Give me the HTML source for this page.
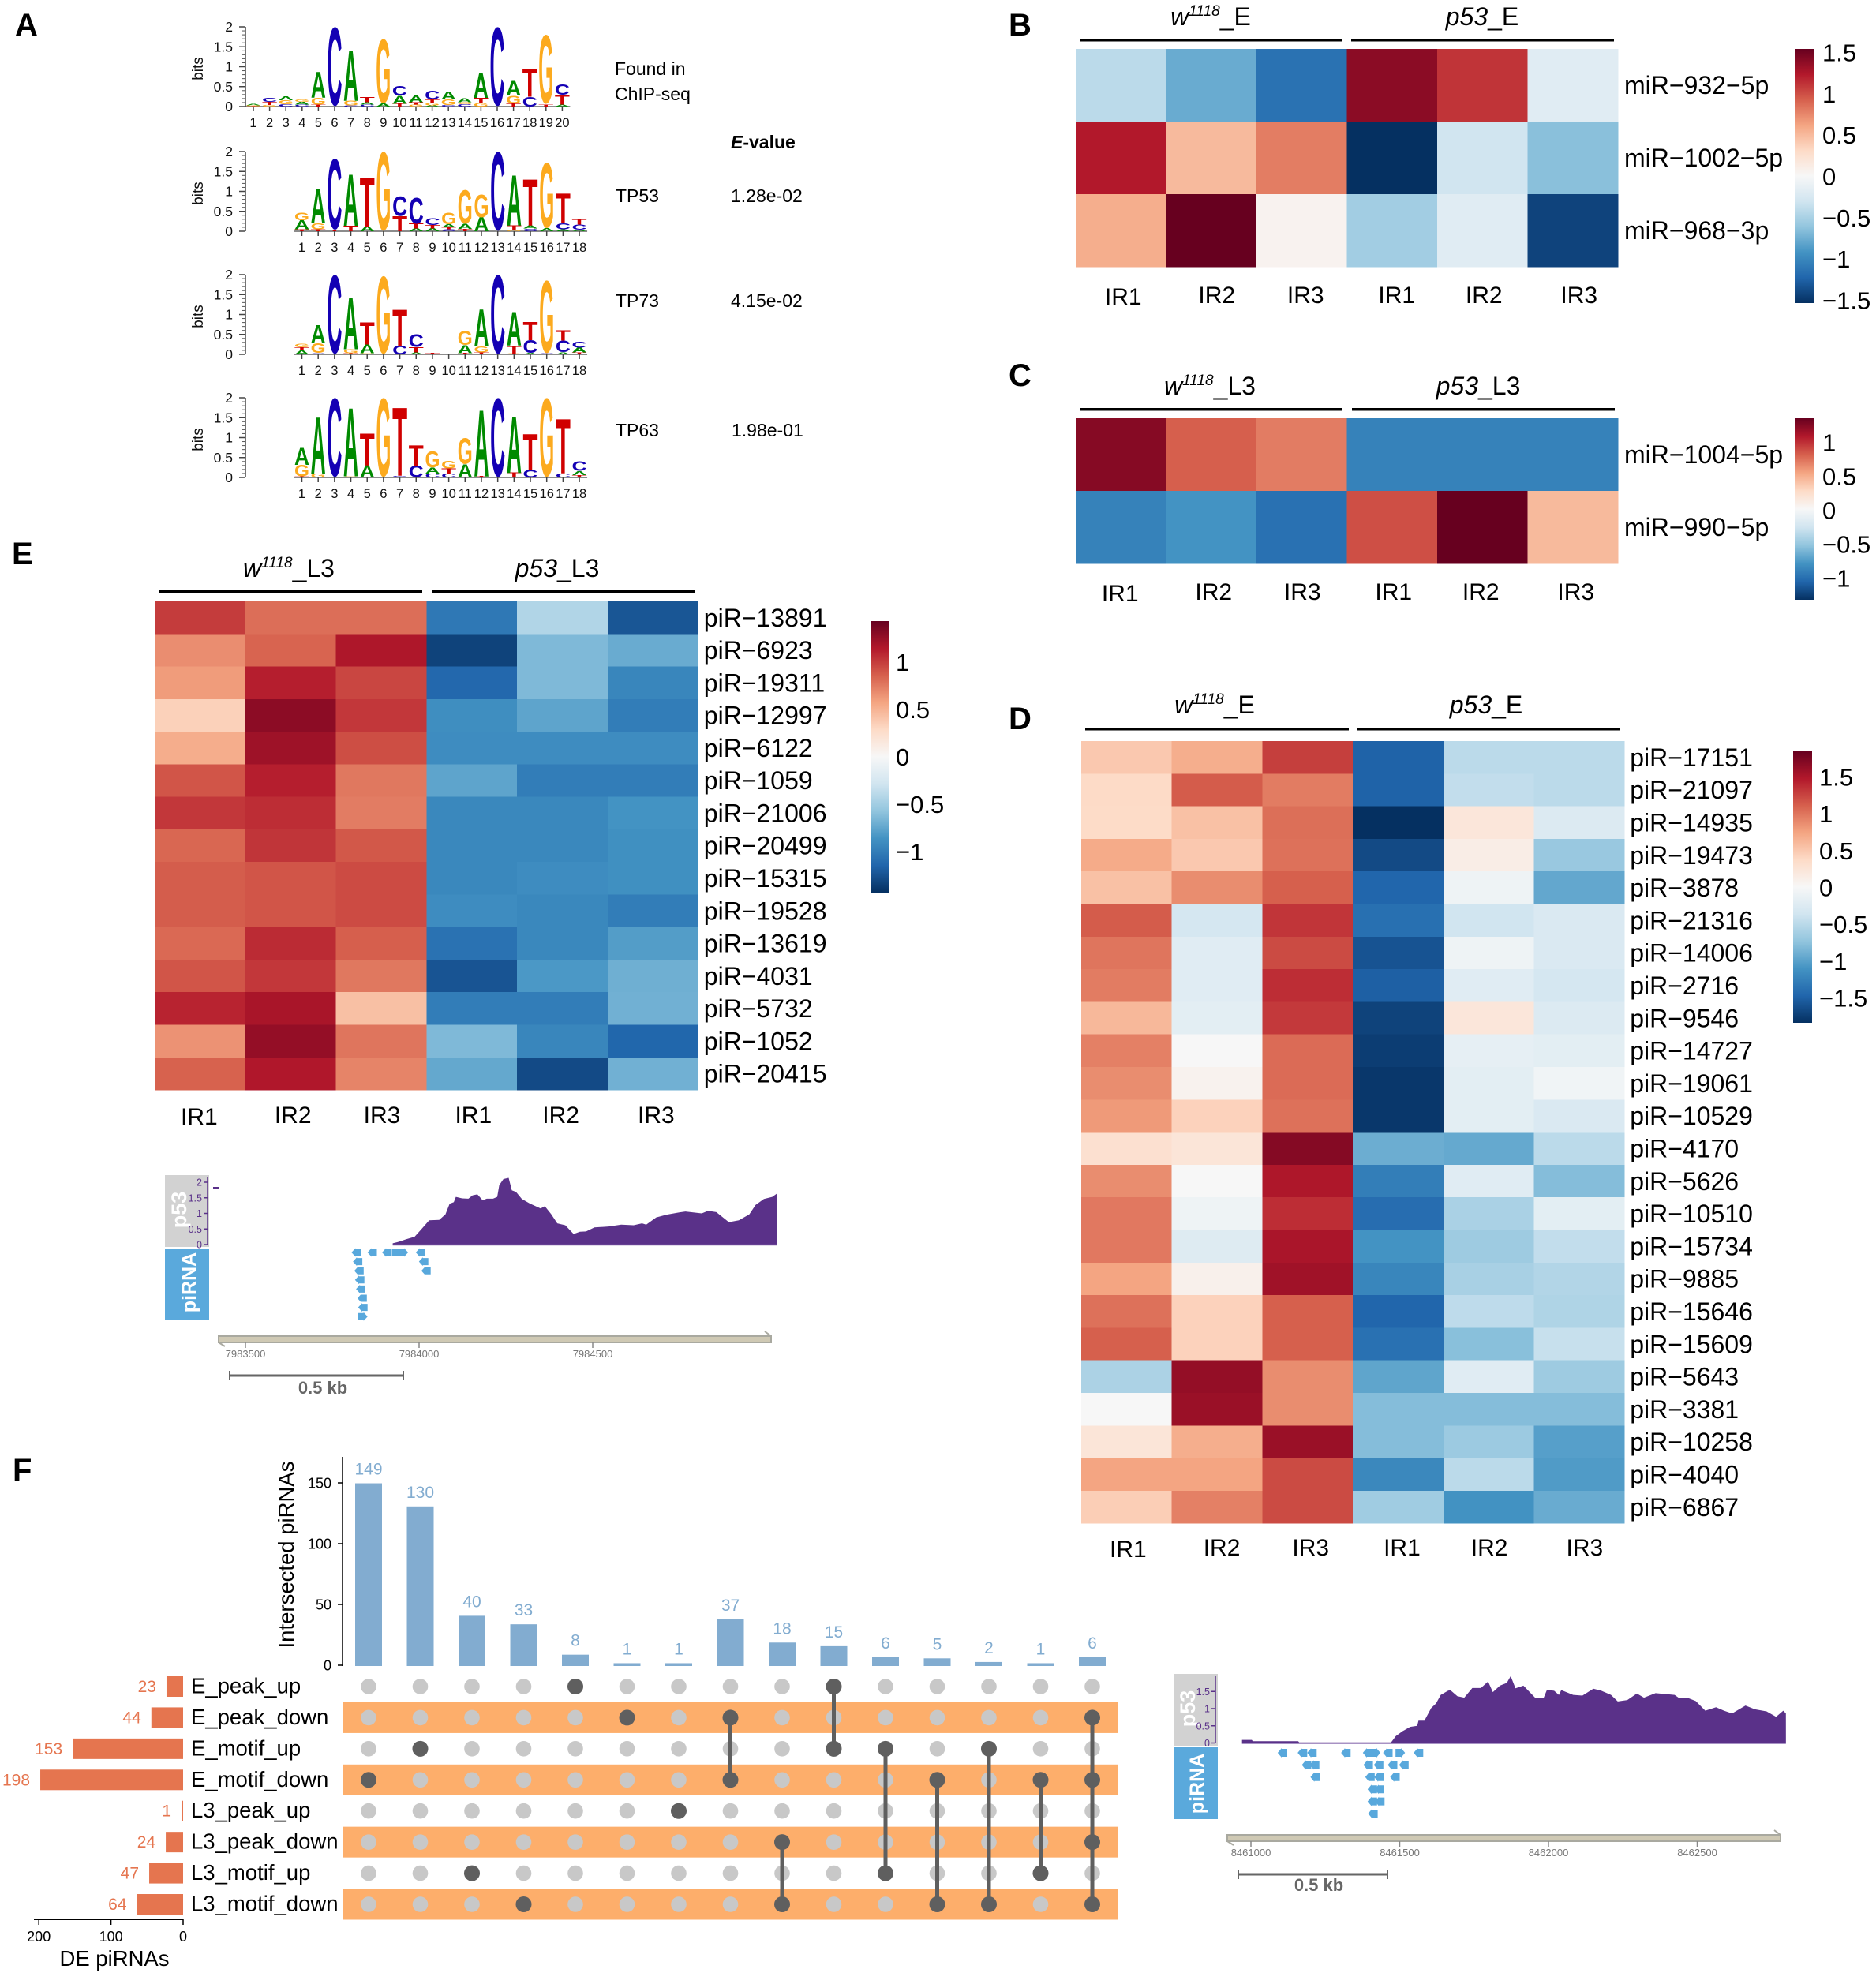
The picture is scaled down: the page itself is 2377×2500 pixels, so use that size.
<!DOCTYPE html>
<html lang="en">
<head>
<meta charset="utf-8">
<title>p53 motif, miRNA and piRNA figure</title>
<style>
html,body{margin:0;padding:0;background:#fff;}
svg{display:block;font-family:"Liberation Sans",sans-serif;}
</style>
</head>
<body>
<svg id="figure" xmlns="http://www.w3.org/2000/svg" width="2377" height="2500" viewBox="0 0 2377 2500">
  <rect x="0" y="0" width="2377" height="2500" fill="#fff"/>
  <g font-weight="bold" font-size="40" fill="#000">
    <text x="19" y="45">A</text>
    <text x="1278" y="45">B</text>
    <text x="1278" y="489">C</text>
    <text x="1278" y="924">D</text>
    <text x="15" y="715">E</text>
    <text x="16" y="1876">F</text>
  </g>
  <g font-size="23" fill="#000">
    <text x="779" y="95">Found in</text>
    <text x="779" y="127">ChIP-seq</text>
    <text x="926" y="188" font-weight="bold"><tspan font-style="italic">E</tspan>-value</text>
    <text x="780" y="256">TP53</text>
    <text x="926" y="256">1.28e-02</text>
    <text x="780" y="389">TP73</text>
    <text x="926" y="389">4.15e-02</text>
    <text x="780" y="553">TP63</text>
    <text x="927" y="553">1.98e-01</text>
  </g>
  <g font-size="32" fill="#000" text-anchor="middle">
    <text x="1534" y="32"><tspan font-style="italic">w<tspan font-size="19" dy="-12">1118</tspan></tspan><tspan dy="12">_E</tspan></text>
    <text x="1878" y="32"><tspan font-style="italic">p53</tspan>_E</text>
    <rect x="1368" y="49" width="333" height="3.5"/>
    <rect x="1712" y="49" width="333" height="3.5"/>
    <text x="1533" y="500"><tspan font-style="italic">w<tspan font-size="19" dy="-12">1118</tspan></tspan><tspan dy="12">_L3</tspan></text>
    <text x="1873" y="500"><tspan font-style="italic">p53</tspan>_L3</text>
    <rect x="1368" y="517" width="333" height="3.5"/>
    <rect x="1713" y="517" width="333" height="3.5"/>
    <text x="366" y="731"><tspan font-style="italic">w<tspan font-size="19" dy="-12">1118</tspan></tspan><tspan dy="12">_L3</tspan></text>
    <text x="706" y="731"><tspan font-style="italic">p53</tspan>_L3</text>
    <rect x="202" y="748" width="333" height="3.5"/>
    <rect x="547" y="748" width="333" height="3.5"/>
    <text x="1539" y="904"><tspan font-style="italic">w<tspan font-size="19" dy="-12">1118</tspan></tspan><tspan dy="12">_E</tspan></text>
    <text x="1883" y="904"><tspan font-style="italic">p53</tspan>_E</text>
    <rect x="1375" y="922" width="334" height="3.5"/>
    <rect x="1720" y="922" width="332" height="3.5"/>
  </g>
  <g font-size="27.5" fill="#000" text-anchor="middle">
    <text transform="translate(372 1970) rotate(-90)">Intersected piRNAs</text>
    <text x="145" y="2491">DE piRNAs</text>
  </g>
  <g>
    <rect x="209" y="1489" width="56" height="91" fill="#d2d2d2"/>
    <rect x="209" y="1582" width="56" height="91" fill="#5aa9dc"/>
    <text transform="translate(236 1533) rotate(-90)" font-size="27" font-weight="bold" fill="#fff" text-anchor="middle">p53</text>
    <text transform="translate(248 1625) rotate(-90)" font-size="25" font-weight="bold" fill="#fff" text-anchor="middle">piRNA</text>
    <rect x="270" y="1504" width="7" height="2" fill="#5a3189"/>
    <line x1="291" y1="1743" x2="511" y2="1743" stroke="#666" stroke-width="3"/>
    <line x1="291" y1="1737" x2="291" y2="1749" stroke="#666" stroke-width="2"/>
    <line x1="511" y1="1737" x2="511" y2="1749" stroke="#666" stroke-width="2"/>
    <text x="409" y="1766" font-size="22" font-weight="bold" fill="#666" text-anchor="middle">0.5 kb</text>
  </g>
  <g>
    <rect x="1487" y="2121" width="56" height="91" fill="#d2d2d2"/>
    <rect x="1487" y="2214" width="56" height="91" fill="#5aa9dc"/>
    <text transform="translate(1514 2165) rotate(-90)" font-size="27" font-weight="bold" fill="#fff" text-anchor="middle">p53</text>
    <text transform="translate(1525 2260) rotate(-90)" font-size="25" font-weight="bold" fill="#fff" text-anchor="middle">piRNA</text>
    <line x1="1569" y1="2375" x2="1758" y2="2375" stroke="#666" stroke-width="3"/>
    <line x1="1569" y1="2369" x2="1569" y2="2381" stroke="#666" stroke-width="2"/>
    <line x1="1758" y1="2369" x2="1758" y2="2381" stroke="#666" stroke-width="2"/>
    <text x="1671" y="2396" font-size="22" font-weight="bold" fill="#666" text-anchor="middle">0.5 kb</text>
  </g>
  <defs id="defs"></defs>
</svg>
<script>
/* ---------- heatmap data ---------- */
const sampleLabels = ['IR1','IR2','IR3','IR1','IR2','IR3'];
const heatBRows = ['miR\u2212932\u22125p','miR\u22121002\u22125p','miR\u2212968\u22123p'];
const heatBValues = [
  [-0.42,-0.78,-1.16,1.4,1.12,-0.19],
  [1.24,0.5,0.8,-1.55,-0.31,-0.65],
  [0.57,1.55,0.05,-0.54,-0.19,-1.44]
];
const heatBTicks = [1.5,1,0.5,0,-0.5,-1,-1.5];
const heatCRows = ['miR\u22121004\u22125p','miR\u2212990\u22125p'];
const heatCValues = [
  [1.22,0.8,0.69,-0.9,-0.9,-0.9],
  [-0.9,-0.8,-1.0,0.86,1.33,0.43]
];
const heatCTicks = [1,0.5,0,-0.5,-1];
const heatERows = ['piR\u221213891','piR\u22126923','piR\u221219311','piR\u221212997','piR\u22126122','piR\u22121059','piR\u221221006','piR\u221220499','piR\u221215315','piR\u221219528','piR\u221213619','piR\u22124031','piR\u22125732','piR\u22121052','piR\u221220415'];
const heatEValues = [
  [1.0,0.8,0.8,-1.03,-0.43,-1.23],
  [0.67,0.84,1.16,-1.33,-0.64,-0.72],
  [0.61,1.12,0.96,-1.13,-0.64,-0.94],
  [0.34,1.29,1.02,-0.89,-0.76,-1.0],
  [0.53,1.22,0.93,-0.9,-0.9,-0.9],
  [0.9,1.12,0.76,-0.76,-1.0,-1.0],
  [1.02,1.06,0.74,-0.93,-0.93,-0.86],
  [0.83,1.03,0.89,-0.93,-0.93,-0.88],
  [0.87,0.9,0.94,-0.93,-0.9,-0.88],
  [0.87,0.9,0.94,-0.9,-0.93,-1.0],
  [0.82,1.07,0.86,-1.07,-0.93,-0.8],
  [0.9,1.02,0.76,-1.24,-0.83,-0.7],
  [1.1,1.18,0.43,-1.0,-1.0,-0.69],
  [0.65,1.26,0.77,-0.64,-0.94,-1.14],
  [0.85,1.15,0.71,-0.74,-1.29,-0.69]
];
const heatETicks = [1,0.5,0,-0.5,-1];
const heatDRows = ['piR\u221217151','piR\u221221097','piR\u221214935','piR\u221219473','piR\u22123878','piR\u221221316','piR\u221214006','piR\u22122716','piR\u22129546','piR\u221214727','piR\u221219061','piR\u221210529','piR\u22124170','piR\u22125626','piR\u221210510','piR\u221215734','piR\u22129885','piR\u221215646','piR\u221215609','piR\u22125643','piR\u22123381','piR\u221210258','piR\u22124040','piR\u22126867'];
const heatDValues = [
  [0.5,0.68,1.28,-1.5,-0.5,-0.5],
  [0.37,1.13,0.96,-1.5,-0.46,-0.5],
  [0.36,0.55,1.03,-1.85,0.22,-0.26],
  [0.7,0.5,1.02,-1.67,0.13,-0.7],
  [0.55,0.87,1.11,-1.48,-0.09,-0.96],
  [1.13,-0.33,1.33,-1.4,-0.37,-0.28],
  [1.0,-0.22,1.22,-1.61,-0.09,-0.28],
  [0.96,-0.22,1.37,-1.52,-0.22,-0.33],
  [0.61,-0.19,1.31,-1.72,0.22,-0.26],
  [0.94,0.0,1.05,-1.76,-0.17,-0.19],
  [0.87,0.07,1.05,-1.8,-0.19,-0.07],
  [0.8,0.43,1.02,-1.8,-0.19,-0.28],
  [0.3,0.24,1.7,-0.92,-0.95,-0.5],
  [0.87,0.0,1.5,-1.28,-0.22,-0.8],
  [0.98,-0.09,1.37,-1.42,-0.6,-0.19],
  [0.98,-0.24,1.52,-1.11,-0.67,-0.46],
  [0.74,0.09,1.57,-1.22,-0.61,-0.55],
  [1.02,0.43,1.11,-1.48,-0.48,-0.57],
  [1.11,0.43,1.11,-1.39,-0.78,-0.43],
  [-0.59,1.63,0.87,-0.98,-0.22,-0.67],
  [0.0,1.6,0.87,-0.8,-0.8,-0.8],
  [0.24,0.68,1.6,-0.8,-0.68,-1.02],
  [0.74,0.74,1.22,-1.2,-0.5,-1.05],
  [0.46,0.94,1.22,-0.66,-1.12,-0.93]
];
const heatDTicks = [1.5,1,0.5,0,-0.5,-1,-1.5];

/* ---------- sequence logo data: letters bottom-to-top, heights in bits ---------- */
const logoYTicks = [0,0.5,1,1.5,2];
const logoFoundLetters = ['TGA','GTC','CGA','CAG','TGA','C','CGA','CAT','AG','TAC','GTA','AGTC','CGA','CGA','GTA','C','TGA','CT','TG','ATC'];
const logoFoundBits = [[0.01,0.02,0.03],[0.04,0.08,0.1],[0.06,0.1,0.1],[0.05,0.07,0.07],[0.05,0.17,0.65],[2],[0.03,0.12,1.25],[0.05,0.06,0.13],[0.07,1.63],[0.07,0.2,0.25],[0.05,0.06,0.16],[0.03,0.07,0.07,0.22],[0.04,0.14,0.2],[0.06,0.05,0.1],[0.09,0.13,0.62],[2],[0.08,0.2,0.36],[0.25,0.7],[0.05,1.75],[0.05,0.24,0.26]];
const logoTP53Letters = ['TAG','TGA','TC','TA','AT','G','TC','ATC','ATC','CTAG','TAG','AG','C','GTA','CAT','AG','ACT','ACT'];
const logoTP53Bits = [[0.05,0.22,0.2],[0.05,0.15,0.85],[0.02,1.8],[0.14,1.28],[0.12,1.23],[2],[0.38,0.5],[0.07,0.12,0.65],[0.07,0.09,0.17],[0.05,0.05,0.07,0.3],[0.06,0.12,0.85],[0.35,0.58],[2],[0.02,0.13,1.25],[0.07,0.07,1.15],[0.07,1.65],[0.05,0.15,0.75],[0.04,0.13,0.14]];
const logoTP73Letters = ['ATG','CGA','C','TGA','GAT','G','CT','ATC','T','','TAG','TGA','C','GTA','ACT','CG','ACT','TAC'];
const logoTP73Bits = [[0.1,0.08,0.09],[0.03,0.25,0.45],[2],[0.03,0.1,1.28],[0.03,0.22,0.55],[1.97],[0.22,0.9],[0.05,0.13,0.33],[0.03],[],[0.03,0.2,0.35],[0.05,0.15,0.92],[2],[0.02,0.2,0.83],[0.03,0.33,0.45],[0.02,1.84],[0.05,0.3,0.25],[0.05,0.12,0.15]];
const logoTP63Letters = ['TGA','GA','C','GA','AT','G','CT','CT','CAG','CTG','AG','TA','C','TA','CT','G','CT','TAC'];
const logoTP63Bits = [[0.02,0.3,0.43],[0.1,1.4],[2],[0.03,1.7],[0.3,0.8],[2],[0.04,1.7],[0.3,0.5],[0.1,0.15,0.4],[0.1,0.12,0.2],[0.33,0.65],[0.03,1.65],[2],[0.12,1.4],[0.2,0.88],[2],[0.1,1.35],[0.06,0.1,0.25]];

/* ---------- genome track data ---------- */
const trackATicks = [7983500,7984000,7984500];
const trackAYTicks = [0,0.5,1,1.5,2];
const trackAPos = [424,439,463,487,505,529,558,576,588,600,606,624,642,654,668,683,695,713,725,731,743,758,767,779,796,820,850,862,880,898,921,945,963,981,1005,1046,1082,1118,1142,1154,1183,1213,1249,1267,1314,1332,1356,1392,1421,1451,1469,1493,1517,1531];
const trackAValues = [0.04,0.08,0.17,0.25,0.47,0.78,0.79,0.97,1.31,1.36,1.53,1.48,1.47,1.58,1.61,1.42,1.47,1.47,1.53,1.91,2.1,2.14,1.74,1.69,1.46,1.31,1.16,1.23,0.98,0.68,0.62,0.34,0.41,0.42,0.55,0.58,0.64,0.62,0.68,0.64,0.87,0.96,1.03,1.06,1.0,1.08,1.04,0.72,0.78,0.97,1.27,1.46,1.53,1.64];
const trackAReadPos = [319,365,407,445,504,323,513,327,520,329,332,336,338,338];
const trackAReadLen = [27,27,27,47,27,27,27,27,27,27,27,27,27,27];
const trackAReadRow = [0,0,0,0,0,1,1,2,2,3,4,5,6,7];
const trackAReadStrand = [-1,-1,-1,1,-1,-1,-1,-1,-1,-1,-1,-1,-1,1];

const trackBTicks = [8461000,8461500,8462000,8462500];
const trackBYTicks = [0,0.5,1,1.5];
const trackBPos = [-30,3,6,159,162,471,487,511,535,559,563,583,606,622,638,662,670,694,717,744,773,797,813,837,860,873,889,916,956,984,995,1019,1035,1043,1083,1114,1151,1178,1210,1233,1265,1297,1321,1360,1424,1440,1471,1495,1527,1563,1590,1617,1662,1694,1733,1765,1789,1798];
const trackBValues = [0.09,0.09,0.05,0.05,0.015,0.015,0.2,0.35,0.47,0.5,0.65,0.65,1.02,1.15,1.4,1.52,1.54,1.36,1.32,1.6,1.6,1.79,1.48,1.67,1.75,1.95,1.59,1.67,1.31,1.32,1.55,1.52,1.4,1.54,1.4,1.38,1.58,1.52,1.4,1.21,1.25,1.44,1.32,1.45,1.4,1.3,1.3,1.22,0.94,1.04,0.94,0.86,1.09,0.98,0.92,0.76,0.94,0.86];
const trackBReadPos = [106,173,205,319,392,419,460,502,563,187,214,394,429,476,514,216,400,430,484,408,432,408,433,410];
const trackBReadRow = [0,0,0,0,0,0,0,0,0,1,1,1,1,1,1,2,2,2,2,3,3,4,4,5];
const trackBReadStrand = [-1,-1,-1,-1,-1,1,-1,1,-1,-1,-1,-1,-1,-1,-1,-1,-1,-1,-1,-1,-1,-1,-1,-1];

/* ---------- UpSet data ---------- */
const setNames = ['E_peak_up','E_peak_down','E_motif_up','E_motif_down','L3_peak_up','L3_peak_down','L3_motif_up','L3_motif_down'];
const setSizes = [23,44,153,198,1,24,47,64];
const setSizeTicks = [200,100,0];
const intersectionSizes = [149,130,40,33,8,1,1,37,18,15,6,5,2,1,6];
const intersectionYTicks = [0,50,100,150];
const intersectionMembers = [[3],[2],[6],[7],[0],[1],[4],[1,3],[5,7],[0,2],[2,6],[3,7],[2,7],[3,6],[1,3,5,7]];

/* ---------- helpers ---------- */
const NS = 'http://www.w3.org/2000/svg';
const root = document.getElementById('figure');
const defs = document.getElementById('defs');
const palette = ['#053061','#2166AC','#4393C3','#92C5DE','#D1E5F0','#F7F7F7','#FDDBC7','#F4A582','#D6604D','#B2182B','#67001F'];
function hex(c){return [parseInt(c.substr(1,2),16),parseInt(c.substr(3,2),16),parseInt(c.substr(5,2),16)];}
function rdbu(t){
  const p = (Math.max(-1,Math.min(1,t))+1)*5;
  const i = Math.min(9,Math.floor(p));
  const f = p-i;
  const a = hex(palette[i]);
  const b = hex(palette[i+1]);
  return 'rgb('+a.map(function(v,k){return Math.round(v+(b[k]-v)*f);}).join(',')+')';
}
function mk(tag,attrs,parent,txt){
  const el = document.createElementNS(NS,tag);
  for(const k in attrs){el.setAttribute(k,attrs[k]);}
  if(txt!==undefined){el.textContent=txt;}
  parent.appendChild(el);
  return el;
}
function fmt(v){return String(v).replace('-','\u2212');}

/* ---------- heatmaps ---------- */
function drawHeatmap(name,values,rows,cfg){
  const g = mk('g',{},root);
  
  
  const xAt = function(c){return cfg.x0+c*cfg.cw;};
  const yAt = function(r){return cfg.y0+r*cfg.rh;};
  const nudge = [-1,3,1,2,-2,4];
  values.forEach(function(row,r){
    row.forEach(function(v,c){
      const cell = mk('rect',{x:xAt(c),y:yAt(r),width:cfg.cw+0.4,height:cfg.rh+0.4,fill:rdbu(v/cfg.range),'shape-rendering':'crispEdges'},g);
      
      
    });
    const rl = mk('text',{x:xAt(6)+cfg.labelGap,y:yAt(r)+cfg.rh/2+11.2,'font-size':32,fill:'#000'},g,rows[r]);
    
    
  });
  sampleLabels.forEach(function(s,c){
    const cl = mk('text',{x:xAt(c)+cfg.cw/2+nudge[c]+cfg.sampleShift,y:cfg.sampleY+(c===0?2:0),'font-size':30,'text-anchor':'middle',fill:'#000'},g,s);
    
    
  });
}
function drawColorbar(name,ticks,cfg){
  const g = mk('g',{},root);
  
  
  const grad = mk('linearGradient',{id:name+'-grad',x1:0,y1:1,x2:0,y2:0},defs);
  palette.forEach(function(c,i){mk('stop',{offset:(i*10)+'%','stop-color':c},grad);});
  const bar = mk('rect',{x:cfg.x,y:cfg.y0,width:cfg.w,height:cfg.y1-cfg.y0,fill:'url(#'+name+'-grad)'},g);
  
  
  const yAt = function(v){return cfg.yZero-v*cfg.unit;};
  ticks.forEach(function(v){
    const t = mk('text',{x:cfg.x+cfg.w+cfg.gap,y:yAt(v)+10.5,'font-size':31,fill:'#000'},g,fmt(v));
    
    
  });
}
drawHeatmap('panel-b',heatBValues,heatBRows,{x0:1363,y0:62,cw:114.5,rh:92,range:1.55,labelGap:8,sampleY:384,sampleShift:4});
drawColorbar('panel-b',heatBTicks,{x:2275,w:23,y0:62,y1:384,yZero:224,unit:104.7,gap:11});
drawHeatmap('panel-c',heatCValues,heatCRows,{x0:1363,y0:530,cw:114.5,rh:92,range:1.33,labelGap:8,sampleY:760,sampleShift:0});
drawColorbar('panel-c',heatCTicks,{x:2275,w:23,y0:530,y1:760,yZero:647,unit:86,gap:11});
drawHeatmap('panel-e',heatEValues,heatERows,{x0:196,y0:762,cw:114.8,rh:41.27,range:1.43,labelGap:7,sampleY:1423,sampleShift:0});
drawColorbar('panel-e',heatETicks,{x:1103,w:23,y0:787,y1:1131,yZero:959.5,unit:120,gap:9});
drawHeatmap('panel-d',heatDValues,heatDRows,{x0:1370,y0:939,cw:114.7,rh:41.3,range:1.85,labelGap:7,sampleY:1971,sampleShift:3});
drawColorbar('panel-d',heatDTicks,{x:2272,w:24,y0:952,y1:1296,yZero:1125,unit:93.3,gap:9});

/* ---------- sequence logos ---------- */
const logoColor = {A:'#008a00',C:'#1400b4',G:'#fcaa1e',T:'#d00000'};
const logoWidth = {A:0.722,C:0.722,G:0.778,T:0.611};
function drawLogo(name,letters,bits,cfg){
  const g = mk('g',{},root);
  
  
  const xAt = function(i){return cfg.x0+cfg.step*i;};
  const yAt = function(b){return cfg.y0-b*50.5;};
  const base = mk('line',{x1:xAt(0)-10,y1:cfg.y0,x2:xAt(letters.length-1)+10,y2:cfg.y0,stroke:'#666','stroke-width':1.5},g);
  
  
  letters.forEach(function(stack,i){
    let acc = 0;
    bits[i].forEach(function(h,k){
      const L = stack[k];
      const sx = 19/(logoWidth[L]*100);
      const round = (L==='C'||L==='G');
      const sy = (h*50.5)/(round?71.5:68.8);
      const offs = round?1.4*sy:0;
      const lt = mk('text',{transform:'translate('+(xAt(i)-9.5)+' '+(yAt(acc)-offs)+') scale('+sx+' '+sy+')','font-size':100,'font-weight':'bold',fill:logoColor[L]},g,L);
      
      
      acc += h;
    });
    const tk = mk('line',{x1:xAt(i),y1:cfg.y0,x2:xAt(i),y2:cfg.y0+6,stroke:'#444','stroke-width':1.5},g);
    
    
    const tl = mk('text',{x:xAt(i),y:cfg.y0+26,'font-size':16.5,'text-anchor':'middle',fill:'#111'},g,String(i+1));
    
    
  });
  const ax = mk('line',{x1:311,y1:yAt(2),x2:311,y2:cfg.y0,stroke:'#444','stroke-width':1.5},g);
  
  
  for(let m=0;m<=20;m++){
    const mt = mk('line',{x1:307,y1:yAt(m/10),x2:311,y2:yAt(m/10),stroke:'#555','stroke-width':1},g);
    
    
  }
  logoYTicks.forEach(function(v){
    const mj = mk('line',{x1:303,y1:yAt(v),x2:311,y2:yAt(v),stroke:'#444','stroke-width':1.5},g);
    
    
    const yl = mk('text',{x:295,y:yAt(v)+6,'font-size':17.5,'text-anchor':'end',fill:'#111'},g,String(v));
    
    
  });
  const yt = mk('text',{transform:'translate(257 '+(cfg.y0-48)+') rotate(-90)','font-size':19,'text-anchor':'middle',fill:'#111'},g,'bits');
  
  
}
drawLogo('found-motif',logoFoundLetters,logoFoundBits,{x0:321,step:20.6,y0:135});
drawLogo('tp53-motif',logoTP53Letters,logoTP53Bits,{x0:382.5,step:20.68,y0:293});
drawLogo('tp73-motif',logoTP73Letters,logoTP73Bits,{x0:382.5,step:20.68,y0:449});
drawLogo('tp63-motif',logoTP63Letters,logoTP63Bits,{x0:382.5,step:20.68,y0:605});

/* ---------- genome tracks ---------- */
function drawTrack(name,pos,vals,yTicks,ticks,rpos,rlen,rrow,rstr,cfg){
  const g = mk('g',{},root);
  
  
  const xAt = function(off){return cfg.xBase+off*cfg.pxPerBp;};
  const yAt = function(v){return cfg.y0-v*cfg.unit;};
  let d = 'M'+xAt(pos[0])+' '+cfg.y0;
  pos.forEach(function(p,i){d += ' L'+xAt(p).toFixed(1)+' '+yAt(vals[i]).toFixed(1);});
  d += ' L'+xAt(pos[pos.length-1])+' '+cfg.y0+' Z';
  const area = mk('path',{d:d,fill:'#5a3189'},g);
  
  
  const bl = mk('line',{x1:xAt(pos[0]),y1:cfg.y0+0.5,x2:xAt(pos[pos.length-1]),y2:cfg.y0+0.5,stroke:'#8a6fb0','stroke-width':1.5},g);
  
  
  const ax = mk('line',{x1:cfg.axisX,y1:cfg.axisTop,x2:cfg.axisX,y2:cfg.y0,stroke:'#5a3189','stroke-width':1.5},g);
  
  
  yTicks.forEach(function(v){
    const t = mk('line',{x1:cfg.axisX-5,y1:yAt(v),x2:cfg.axisX,y2:yAt(v),stroke:'#5a3189','stroke-width':1.5},g);
    
    
    const tl = mk('text',{x:cfg.axisX-7,y:yAt(v)+4.5,'font-size':12.5,'text-anchor':'end',fill:'#5a3189'},g,String(v));
    
    
  });
  rpos.forEach(function(p,i){
    const len = rlen?rlen[i]:cfg.readLen;
    const cx = xAt(p);
    const w = len*cfg.pxPerBp/2;
    const yc = cfg.readY+rrow[i]*cfg.readStep;
    const h = cfg.readH/2;
    const s = rstr[i];
    const pts = [[cx+s*w,yc],[cx+s*(w-5),yc-h],[cx+s*(w-5),yc-h+1],[cx-s*w,yc-h+1],[cx-s*w,yc+h-1],[cx+s*(w-5),yc+h-1],[cx+s*(w-5),yc+h]];
    const rd = mk('polygon',{points:pts.map(function(q){return q[0].toFixed(1)+','+q[1].toFixed(1);}).join(' '),fill:'#58a8dc'},g);
    
    
  });
  const bar = mk('rect',{x:cfg.barL,y:cfg.barY,width:cfg.barR-cfg.barL,height:8,fill:'#cfc9b4',stroke:'#a9a9a0','stroke-width':2},g);
  
  
  const tip = mk('polyline',{points:(cfg.barR-8)+','+(cfg.barY-6)+' '+cfg.barR+','+cfg.barY,fill:'none',stroke:'#a9a9a0','stroke-width':2},g);
  
  
  const tail = mk('polyline',{points:cfg.barL+','+(cfg.barY+8)+' '+(cfg.barL+8)+','+(cfg.barY+13),fill:'none',stroke:'#a9a9a0','stroke-width':2},g);
  
  
  ticks.forEach(function(b){
    const x = xAt(b-cfg.base);
    const t = mk('line',{x1:x,y1:cfg.barY+8,x2:x,y2:cfg.barY+15,stroke:'#888','stroke-width':1.5},g);
    
    
    const tl = mk('text',{x:x,y:cfg.barY+27,'font-size':13,'text-anchor':'middle',fill:'#777'},g,String(b));
    
    
  });
}
drawTrack('track-a',trackAPos,trackAValues,trackAYTicks,trackATicks,trackAReadPos,trackAReadLen,trackAReadRow,trackAReadStrand,
  {base:7983500,xBase:311,pxPerBp:0.44,y0:1577,unit:39.5,axisX:263,axisTop:1492,readY:1587,readStep:11.6,readH:11,readLen:27,barL:277,barR:977,barY:1693});
drawTrack('track-b',trackBPos,trackBValues,trackBYTicks,trackBTicks,trackBReadPos,null,trackBReadRow,trackBReadStrand,
  {base:8461000,xBase:1585,pxPerBp:0.377,y0:2208.5,unit:43.5,axisX:1540,axisTop:2124,readY:2221,readStep:15.4,readH:12,readLen:32,barL:1555,barR:2256,barY:2325});

/* ---------- UpSet plot ---------- */
(function(){
  const g = mk('g',{},root);
  
  
  const colX = function(i){return 467+65.5*i;};
  const rowY = function(r){return 2137+39.43*r;};
  const barY = function(v){return 2110-v*1.54;};
  const sizeX = function(v){return 232-v*0.914;};
  setNames.forEach(function(n,r){
    if(r%2===1){
      const st = mk('rect',{x:434,y:rowY(r)-19.5,width:982,height:39,fill:'#fdae6b'},g);
      
      
    }
    const bw = Math.max(2,setSizes[r]*0.914);
    const sb = mk('rect',{x:232-bw,y:rowY(r)-13,width:bw,height:26,fill:'#e5754f'},g);
    
    
    const sv = mk('text',{x:232-bw-13,y:rowY(r)+7,'font-size':21,'text-anchor':'end',fill:'#e5754f'},g,String(setSizes[r]));
    
    
    const sl = mk('text',{x:242,y:rowY(r)+8.5,'font-size':27.5,fill:'#000'},g,n);
    
    
  });
  const sx = mk('line',{x1:43,y1:2432,x2:232,y2:2432,stroke:'#000','stroke-width':2},g);
  
  
  setSizeTicks.forEach(function(v){
    const t = mk('line',{x1:sizeX(v),y1:2432,x2:sizeX(v),y2:2439,stroke:'#000','stroke-width':1.5},g);
    
    
    const l = mk('text',{x:sizeX(v),y:2460,'font-size':18,'text-anchor':'middle',fill:'#000'},g,String(v));
    
    
  });
  const ya = mk('line',{x1:434,y1:1846,x2:434,y2:2111,stroke:'#000','stroke-width':1.5},g);
  
  
  intersectionYTicks.forEach(function(v){
    const t = mk('line',{x1:428,y1:barY(v),x2:434,y2:barY(v),stroke:'#000','stroke-width':1.5},g);
    
    
    const l = mk('text',{x:420,y:barY(v)+6.5,'font-size':18,'text-anchor':'end',fill:'#000'},g,String(v));
    
    
  });
  intersectionSizes.forEach(function(v,i){
    const b = mk('rect',{x:colX(i)-17,y:barY(v)-1,width:34,height:2111-barY(v)+1,fill:'#82acd0'},g);
    
    
    const l = mk('text',{x:colX(i),y:barY(v)-12,'font-size':21,'text-anchor':'middle',fill:'#82acd0'},g,String(v));
    
    
    setNames.forEach(function(n,r){
      const dot = mk('circle',{cx:colX(i),cy:rowY(r),r:9.8,fill:'#c8c8c8'},g);
      
      
    });
  });
  intersectionMembers.forEach(function(m,i){
    if(m.length>1){
      const ln = mk('line',{x1:colX(i),y1:rowY(Math.min.apply(null,m)),x2:colX(i),y2:rowY(Math.max.apply(null,m)),stroke:'#5f5f5f','stroke-width':5},g);
      
      
    }
    m.forEach(function(r){
      const dot = mk('circle',{cx:colX(i),cy:rowY(r),r:10,fill:'#5f5f5f'},g);
      
      
    });
  });
})();
</script>
</body>
</html>
